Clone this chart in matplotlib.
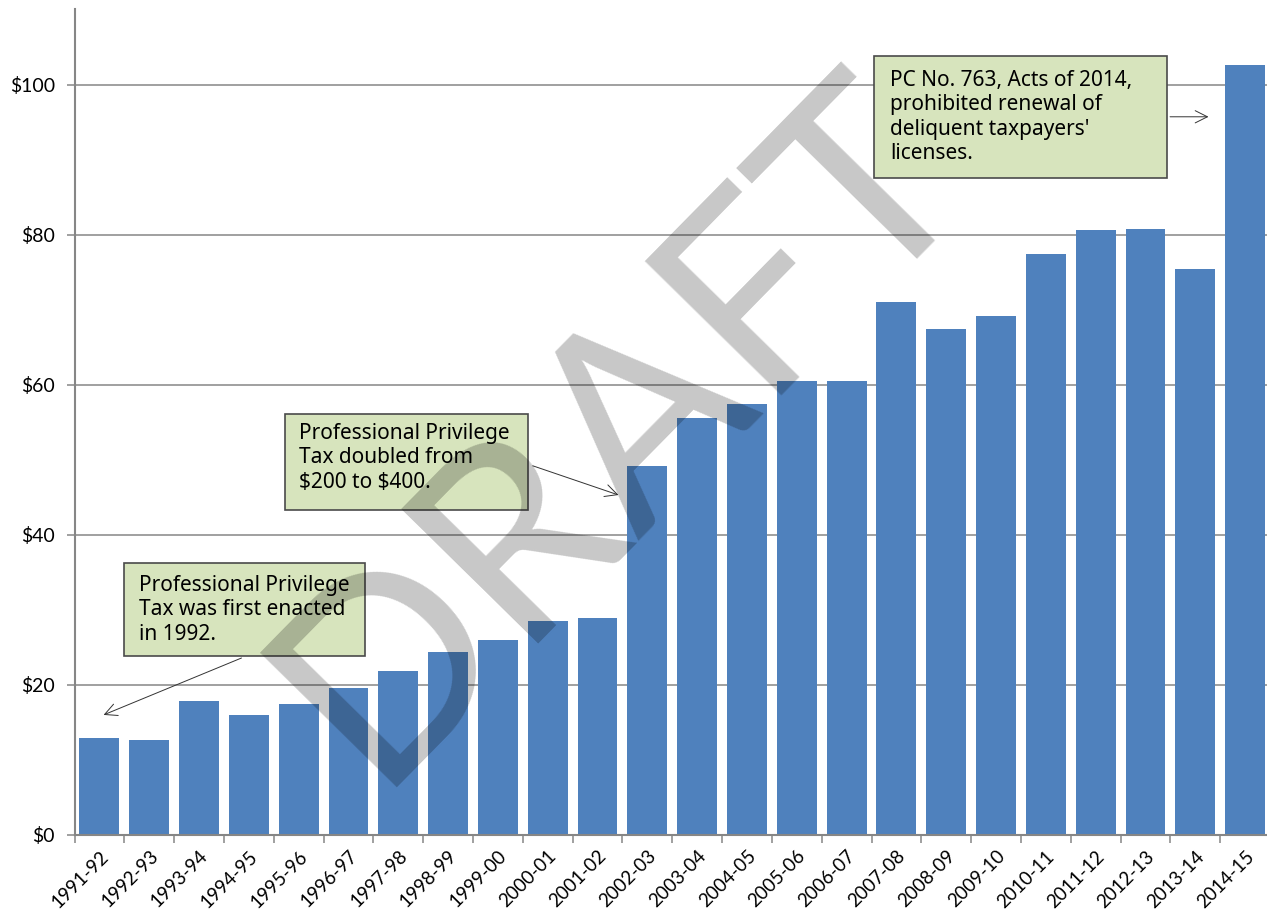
import matplotlib
matplotlib.use("Agg")
import matplotlib.pyplot as plt
from matplotlib.patches import Rectangle
import numpy as np

# Fiscal years and collections (millions of dollars)
years = ['1991-92', '1992-93', '1993-94', '1994-95', '1995-96', '1996-97',
         '1997-98', '1998-99', '1999-00', '2000-01', '2001-02', '2002-03',
         '2003-04', '2004-05', '2005-06', '2006-07', '2007-08', '2008-09',
         '2009-10', '2010-11', '2011-12', '2012-13', '2013-14', '2014-15']
revenue = [12.9, 12.7, 17.9, 16.0, 17.5, 19.6, 21.9, 24.4, 26.0, 28.5,
           28.9, 49.2, 55.6, 57.5, 60.5, 60.5, 71.1, 67.5, 69.2, 77.5,
           80.7, 80.8, 75.5, 102.7]
y_ticks = [0, 20, 40, 60, 80, 100]
y_labels = ['$0', '$20', '$40', '$60', '$80', '$100']

W, H = 1267, 911
fig = plt.figure(figsize=(W / 100, H / 100), dpi=100)
ax = fig.add_axes([74.5 / W, 1 - 835 / H, (1270 - 74.5) / W, (835 - 9) / H])

x = np.arange(len(years))
ax.bar(x, revenue, width=0.8, color='#4f81bd', zorder=2)

ax.set_xlim(-0.5, len(years) - 0.5)
ax.set_ylim(0, 110.1)

grid_col = '#868686'
ax.set_yticks(y_ticks)
ax.set_yticklabels(y_labels, fontsize=14, family='Lato')
ax.yaxis.grid(True, color=grid_col, linewidth=1.1, zorder=1)
ax.tick_params(axis='y', length=6, width=1.1, color=grid_col, pad=8)

ax.set_xticks(x)
ax.set_xticklabels(years, rotation=45, ha='right', va='top',
                   rotation_mode='anchor', fontsize=13.5, family='Lato')
ax.tick_params(axis='x', which='major', length=0, pad=9)
ax.set_xticks(np.arange(len(years) + 1) - 0.5, minor=True)
ax.tick_params(axis='x', which='minor', length=6, width=1.1, color=grid_col)

for side in ['top', 'right']:
    ax.spines[side].set_visible(False)
for side in ['left', 'bottom']:
    ax.spines[side].set_color(grid_col)
    ax.spines[side].set_linewidth(1.5)
ax.set_axisbelow(True)


def px2data(px, py):
    return (px - 74.5) / 49.8 - 0.5, (835 - py) / 7.5


def note_box(x0, y0, x1, y1, text, tx, ty, arrow_from, arrow_to):
    ax0, ay0 = px2data(x0, y1)
    ax1_, ay1 = px2data(x1, y0)
    ax.add_patch(Rectangle((ax0, ay0), ax1_ - ax0, ay1 - ay0,
                           facecolor='#d7e4bd', edgecolor='#4a4a4a',
                           linewidth=1.2, zorder=4))
    ttx, tty = px2data(tx, ty)
    ax.text(ttx, tty, text, fontsize=15, family='Noto Sans', va='top',
            ha='left', linespacing=1.22, zorder=5)
    ax.annotate('', xy=px2data(*arrow_to), xytext=px2data(*arrow_from),
                arrowprops=dict(arrowstyle='->', color='#333333', lw=0.7,
                                mutation_scale=22),
                zorder=5)


note_box(124, 563, 365, 656,
         'Professional Privilege\nTax was first enacted\nin 1992.',
         139, 575, (244, 657), (101, 716))
note_box(285, 414, 528, 510,
         'Professional Privilege\nTax doubled from\n\\$200 to \\$400.',
         299, 423, (530, 465), (621, 496))
note_box(874, 56, 1167, 178,
         "PC No. 763, Acts of 2014,\nprohibited renewal of\ndeliquent taxpayers'\nlicenses.",
         890, 70, (1167, 117), (1211, 117))

# DRAFT watermark
wx, wy = px2data(674, 482)
ax.text(wx, wy, 'DRAFT', fontsize=192, family='Lato', color='black',
        alpha=0.22, rotation=45.5, ha='center', va='baseline',
        rotation_mode='anchor', zorder=6)

fig.savefig('out.png', dpi=100)
